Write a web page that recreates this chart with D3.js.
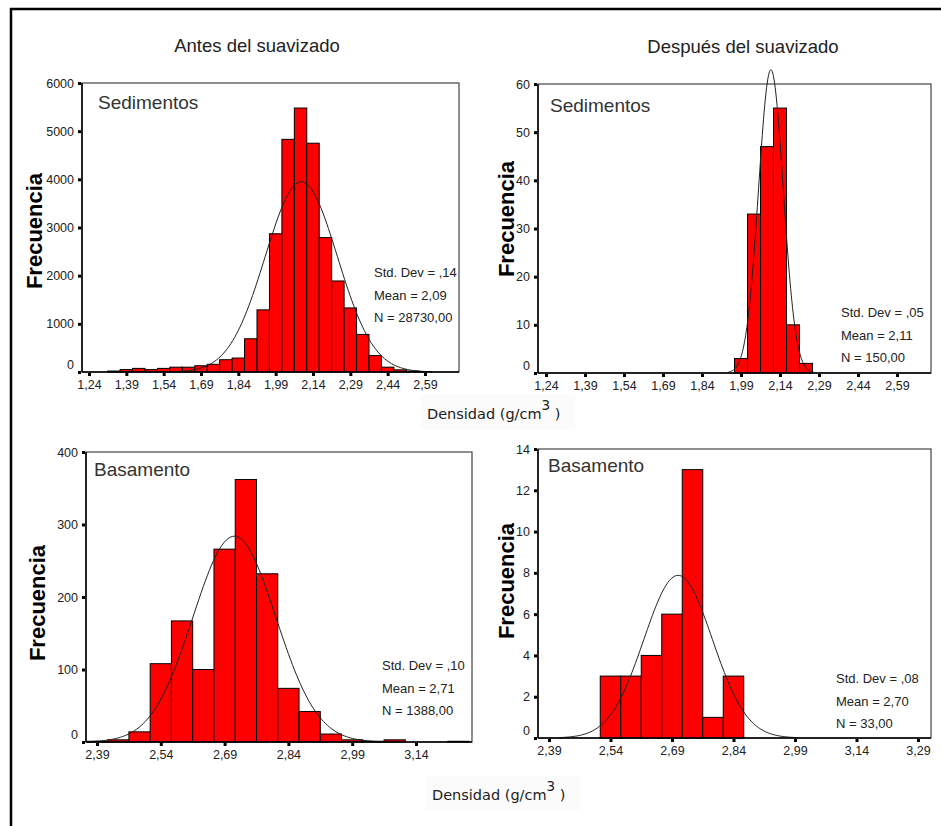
<!DOCTYPE html>
<html>
<head>
<meta charset="utf-8">
<script src="https://cdn.jsdelivr.net/npm/d3@7"></script>
<style>
body { margin: 0; background: #fff; }
svg { display: block; }
text { font-family: "Liberation Sans", Arial, sans-serif; fill: #222; }
.tick line { stroke: #000; stroke-width: 3; }
.bar { fill: #ff0000; stroke: #000; stroke-width: 1; }
.fit { fill: none; stroke: #222; stroke-width: 1; }
.frame { stroke: #000; stroke-width: 2.5; }
</style>
</head>
<body>
<svg id="chart" width="941" height="826"></svg>
<script>
// ---- values (bin width 0.05 g/cm3) ----
var binWidth = 0.05;

// Sedimentos, antes del suavizado
var sedAntesBins   = [1.34,1.39,1.44,1.49,1.54,1.59,1.64,1.69,1.74,1.79,1.84,1.89,1.94,
                      1.99,2.04,2.09,2.14,2.19,2.24,2.29,2.34,2.39,2.44,2.49,2.54,2.59];
var sedAntesCounts = [20,50,75,50,75,100,100,130,160,255,290,690,1290,
                      2870,4830,5480,4750,2790,1890,1330,780,340,100,45,20,8];
var sedAntesFit    = {mean: 2.093, sd: 0.145, n: 28730};
var sedAntesStats  = ["Std. Dev = ,14", "Mean = 2,09", "N = 28730,00"];

// Sedimentos, después del suavizado
var sedDespBins    = [1.99,2.04,2.09,2.14,2.19,2.24];
var sedDespCounts  = [3,33,47,55,10,2];
var sedDespFit     = {mean: 2.105, sd: 0.0475, n: 150};
var sedDespStats   = ["Std. Dev = ,05", "Mean = 2,11", "N = 150,00"];

// Basamento, antes del suavizado
var basAntesBins   = [2.39,2.44,2.49,2.54,2.59,2.64,2.69,2.74,2.79,2.84,2.89,2.94,2.99,3.04,3.09,3.14,3.19,3.24];
var basAntesCounts = [1,3,14,108,167,100,266,362,232,74,42,11,3,1,3,0,0,1];
var basAntesFit    = {mean: 2.713, sd: 0.0975, n: 1388};
var basAntesStats  = ["Std. Dev = ,10", "Mean = 2,71", "N = 1388,00"];

// Basamento, después del suavizado
var basDespBins    = [2.54,2.59,2.64,2.69,2.74,2.79,2.84];
var basDespCounts  = [3,3,4,6,13,1,3];
var basDespFit     = {mean: 2.705, sd: 0.0835, n: 33};
var basDespStats   = ["Std. Dev = ,08", "Mean = 2,70", "N = 33,00"];

// tick labels
var sedTicks      = [1.24,1.39,1.54,1.69,1.84,1.99,2.14,2.29,2.44,2.59];
var basAntesTicks = [2.39,2.54,2.69,2.84,2.99,3.14];
var basDespTicks  = [2.39,2.54,2.69,2.84,2.99,3.14,3.29];
var sedAntesY     = [0,1000,2000,3000,4000,5000,6000];
var sedDespY      = [0,10,20,30,40,50,60];
var basAntesY     = [0,100,200,300,400];
var basDespY      = [0,2,4,6,8,10,12,14];

var svg = d3.select("#chart");

// outer frame (top and left edges only)
svg.append("line").attr("class", "frame").attr("x1", 10).attr("y1", 9).attr("x2", 941).attr("y2", 9);
svg.append("line").attr("class", "frame").attr("x1", 11).attr("y1", 8).attr("x2", 11).attr("y2", 826);

// column titles
svg.append("text").attr("x", 257).attr("y", 52).attr("text-anchor", "middle")
    .style("font-size", "18.5px").text("Antes del suavizado");
svg.append("text").attr("x", 743).attr("y", 53).attr("text-anchor", "middle")
    .style("font-size", "18.5px").text("Después del suavizado");

// x-axis titles
function densidad(x, y) {
    svg.append("rect").attr("x", x - 6).attr("y", y - 24).attr("width", 154).attr("height", 34)
        .attr("fill", "#fbfbfb");
    var t = svg.append("text").attr("x", x).attr("y", y)
        .style("font-family", "'DejaVu Sans', Verdana, sans-serif").style("font-size", "14.5px");
    t.append("tspan").text("Densidad (g/cm");
    t.append("tspan").attr("dy", -9).style("font-size", "13.5px").text("3");
    t.append("tspan").attr("dy", 9).text(" )");
}
densidad(427, 419);
densidad(432, 800);

var fmtComma = function(d) { return d3.format(".2f")(d).replace(".", ","); };

var panels = [
    {bins: sedAntesBins, counts: sedAntesCounts, fit: sedAntesFit, stats: sedAntesStats,
     xTicks: sedTicks, yTicks: sedAntesY, name: "Sedimentos",
     box: {l: 82, t: 83, r: 459, b: 372}, xPix: [89, 425], frec: [42, 231], label: [98, 109], statPos: [374, 277]},
    {bins: sedDespBins, counts: sedDespCounts, fit: sedDespFit, stats: sedDespStats,
     xTicks: sedTicks, yTicks: sedDespY, name: "Sedimentos",
     box: {l: 538, t: 84, r: 931, b: 373}, xPix: [546, 897], frec: [514, 219], label: [550, 112], statPos: [841, 317]},
    {bins: basAntesBins, counts: basAntesCounts, fit: basAntesFit, stats: basAntesStats,
     xTicks: basAntesTicks, yTicks: basAntesY, name: "Basamento",
     box: {l: 86, t: 452, r: 472, b: 742}, xPix: [97, 416], frec: [45, 603], label: [94, 476], statPos: [382, 670]},
    {bins: basDespBins, counts: basDespCounts, fit: basDespFit, stats: basDespStats,
     xTicks: basDespTicks, yTicks: basDespY, name: "Basamento",
     box: {l: 538, t: 449, r: 931, b: 738}, xPix: [549, 918], frec: [514, 581], label: [548, 472], statPos: [836, 683]}
];

panels.forEach(drawPanel);

function drawPanel(p) {
    var g = svg.append("g");
    var b = p.box;
    var xt = p.xTicks;
    var x = d3.scaleLinear().domain([xt[0], xt[xt.length - 1]]).range(p.xPix);
    var y = d3.scaleLinear().domain([0, p.yTicks[p.yTicks.length - 1]]).range([b.b, b.t]);

    // plot frame
    g.append("rect").attr("x", b.l).attr("y", b.t).attr("width", b.r - b.l).attr("height", b.b - b.t)
        .attr("fill", "#fff").attr("stroke", "#444").attr("stroke-width", 1.2);

    // bars
    var data = p.bins.map(function(c, i) { return {c: c, n: p.counts[i]}; })
        .filter(function(d) { return d.n > 0; });
    g.selectAll("rect.bar").data(data).enter().append("rect")
        .attr("class", "bar")
        .attr("x", function(d) { return x(d.c - binWidth / 2); })
        .attr("width", function(d) { return x(d.c + binWidth / 2) - x(d.c - binWidth / 2); })
        .attr("y", function(d) { return y(d.n); })
        .attr("height", function(d) { return y(0) - y(d.n); });

    // fitted normal curve
    var f = p.fit;
    var pts = d3.range(-3.5, 3.5001, 0.05).map(function(z) {
        var v = f.mean + z * f.sd;
        var dens = f.n * binWidth / (f.sd * Math.sqrt(2 * Math.PI)) * Math.exp(-z * z / 2);
        return [v, dens];
    });
    g.append("path").attr("class", "fit")
        .attr("d", d3.line().x(function(d) { return x(d[0]); }).y(function(d) { return y(d[1]); })
            .curve(d3.curveBasis)(pts));

    // axes lines
    g.append("line").attr("x1", b.l).attr("x2", b.r).attr("y1", b.b).attr("y2", b.b)
        .attr("stroke", "#000").attr("stroke-width", 1.5);
    g.append("line").attr("x1", b.l).attr("x2", b.l).attr("y1", b.t).attr("y2", b.b)
        .attr("stroke", "#000").attr("stroke-width", 1.5);

    var gx = g.append("g").attr("transform", "translate(0," + b.b + ")")
        .call(d3.axisBottom(x).tickValues(xt).tickSize(3).tickPadding(5).tickFormat(fmtComma));
    gx.select(".domain").remove();
    gx.selectAll(".tick line").attr("transform", "translate(0,1)");

    var gy = g.append("g").attr("transform", "translate(" + b.l + ",0)")
        .call(d3.axisLeft(y).tickValues(p.yTicks).tickSize(3).tickPadding(5).tickFormat(d3.format("d")));
    gy.select(".domain").remove();
    gy.selectAll(".tick line").attr("transform", "translate(-1,0)");
    gy.selectAll(".tick text").filter(function(d) { return d === 0; })
        .attr("transform", "translate(0,-8)");
    g.selectAll(".tick text")
        .style("font-family", "'Liberation Sans', Arial, sans-serif")
        .style("font-size", "12.5px")
        .style("fill", "#222");

    // y title
    g.append("text")
        .attr("transform", "translate(" + p.frec[0] + "," + p.frec[1] + ") rotate(-90)")
        .attr("text-anchor", "middle")
        .style("font-size", "22px").style("font-weight", "bold").style("fill", "#000")
        .text("Frecuencia");

    // panel label
    g.append("text").attr("x", p.label[0]).attr("y", p.label[1])
        .style("font-size", "19px").style("fill", "#333").text(p.name);

    // stats
    g.selectAll("text.stat").data(p.stats).enter().append("text")
        .attr("class", "stat")
        .attr("x", p.statPos[0])
        .attr("y", function(d, i) { return p.statPos[1] + i * 22.5; })
        .style("font-size", "13px")
        .text(function(d) { return d; });
}
</script>
</body>
</html>
